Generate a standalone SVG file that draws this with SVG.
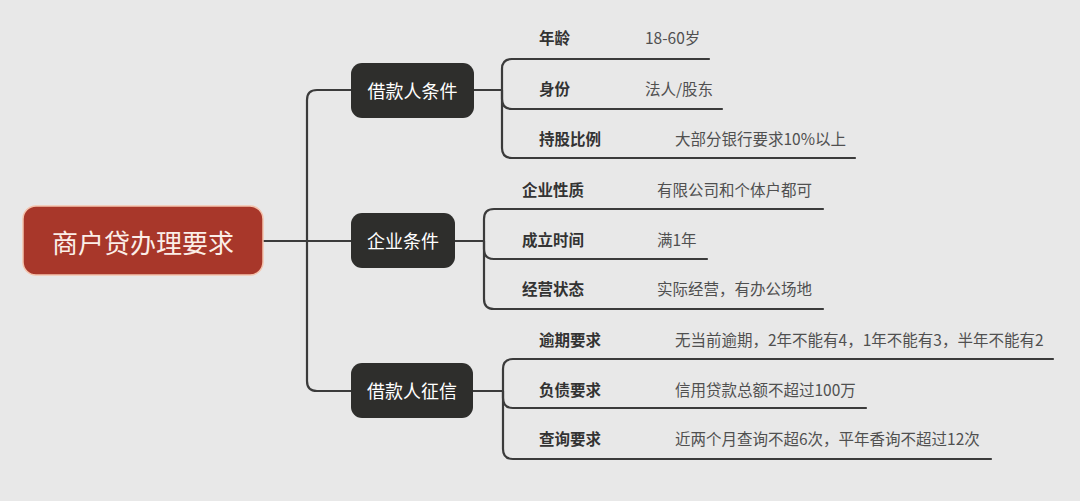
<svg xmlns="http://www.w3.org/2000/svg" width="1080" height="501" viewBox="0 0 1080 501">
<style>
.ln{fill:none;stroke:#3b3b3b;stroke-width:2.2;stroke-linecap:round}
.nd{fill:#2e2e2c}
.nt{fill:#ffffff;font-family:"Noto Sans CJK SC",sans-serif;font-size:18px;text-anchor:middle;dominant-baseline:central}
.lb{fill:#333333;font-family:"Noto Sans CJK SC",sans-serif;font-size:15.5px;font-weight:700;dominant-baseline:central}
.vl{fill:#505050;font-family:"Noto Sans CJK SC",sans-serif;font-size:15.5px;dominant-baseline:central}
</style>
<rect x="0" y="0" width="1080" height="501" fill="#e8e8e8"/>
<g id="connectors">
<path class="ln" d="M263 241 H351"/>
<path class="ln" d="M351 90 H317 Q307 90 307 100 V381 Q307 391 317 391 H351"/>
<path class="ln" d="M474 90 H502 M502 90 V69 Q502 59 512 59 H709"/>
<path class="ln" d="M502 90 V99 Q502 109 512 109 H722"/>
<path class="ln" d="M502 90 V148 Q502 158 512 158 H855"/>
<path class="ln" d="M455 241 H484 M484 241 V219 Q484 209 494 209 H823"/>
<path class="ln" d="M484 241 V249 Q484 259 494 259 H707"/>
<path class="ln" d="M484 241 V299 Q484 309 494 309 H823"/>
<path class="ln" d="M473 391 H503 M503 391 V369 Q503 359 513 359 H1053"/>
<path class="ln" d="M503 391 V398 Q503 408 513 408 H866"/>
<path class="ln" d="M503 391 V449 Q503 459 513 459 H991"/>
</g>
<g id="root">
<rect x="23" y="206" width="240" height="69" rx="13" fill="#a8372a" stroke="#f4c3ad" stroke-width="1.5"/>
<text x="143" y="241" fill="#fbeee8" font-family="'Noto Sans CJK SC',sans-serif" font-size="26" text-anchor="middle" dominant-baseline="central">商户贷办理要求</text>
</g>
<g id="n1">
<rect class="nd" x="351" y="63" width="123" height="55" rx="11"/>
<text class="nt" x="412.5" y="90">借款人条件</text>
</g>
<g id="n2">
<rect class="nd" x="351" y="213" width="104" height="55" rx="11"/>
<text class="nt" x="403" y="240">企业条件</text>
</g>
<g id="n3">
<rect class="nd" x="351" y="363" width="122" height="55" rx="11"/>
<text class="nt" x="412" y="390">借款人征信</text>
</g>
<g id="n1a"><text class="lb" x="539" y="37">年龄</text><text class="vl" x="645" y="37">18-60岁</text></g>
<g id="n1b"><text class="lb" x="539" y="88">身份</text><text class="vl" x="645" y="88">法人/股东</text></g>
<g id="n1c"><text class="lb" x="539" y="138">持股比例</text><text class="vl" x="675" y="138">大部分银行要求10%以上</text></g>
<g id="n2a"><text class="lb" x="522" y="189">企业性质</text><text class="vl" x="657" y="189">有限公司和个体户都可</text></g>
<g id="n2b"><text class="lb" x="522" y="239">成立时间</text><text class="vl" x="657" y="239">满1年</text></g>
<g id="n2c"><text class="lb" x="522" y="288">经营状态</text><text class="vl" x="657" y="288">实际经营，有办公场地</text></g>
<g id="n3a"><text class="lb" x="539" y="339">逾期要求</text><text class="vl" x="675" y="339">无当前逾期，2年不能有4，1年不能有3，半年不能有2</text></g>
<g id="n3b"><text class="lb" x="539" y="389">负债要求</text><text class="vl" x="675" y="389">信用贷款总额不超过100万</text></g>
<g id="n3c"><text class="lb" x="539" y="438">查询要求</text><text class="vl" x="675" y="438">近两个月查询不超6次，平年香询不超过12次</text></g>
</svg>
